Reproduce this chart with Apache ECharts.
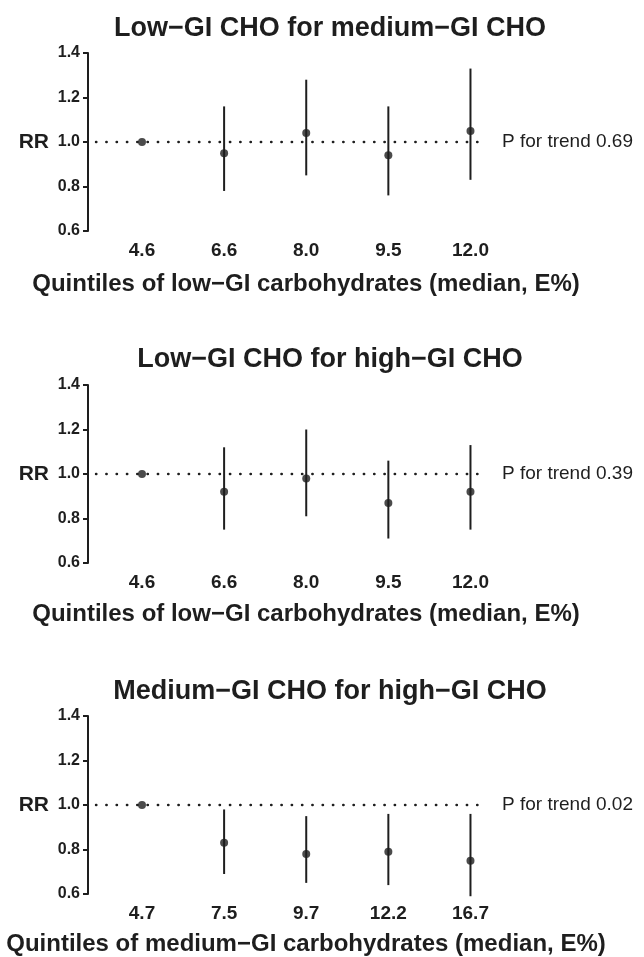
<!DOCTYPE html>
<html lang="en">
<head>
    <meta charset="utf-8">
    <title>RR by quintiles of GI carbohydrates</title>
    <script src="https://cdn.jsdelivr.net/npm/echarts@6/dist/echarts.min.js"></script>
    <style>
        html, body { margin: 0; padding: 0; background: #fff; }
    </style>
</head>
<body>
<div id="chart" style="width:644px; height:957px;"></div>

<script>
    // panel titles / axis titles / trend text
    var panelTitles = ['Low\u2212GI CHO for medium\u2212GI CHO', 'Low\u2212GI CHO for high\u2212GI CHO', 'Medium\u2212GI CHO for high\u2212GI CHO'];
    var xTitles = ['Quintiles of low\u2212GI carbohydrates (median, E%)', 'Quintiles of low\u2212GI carbohydrates (median, E%)', 'Quintiles of medium\u2212GI carbohydrates (median, E%)'];
    var trendText = ['P for trend 0.69', 'P for trend 0.39', 'P for trend 0.02'];

    // quintile medians (tick labels)
    var quint1 = ['4.6', '6.6', '8.0', '9.5', '12.0'];
    var quint2 = ['4.6', '6.6', '8.0', '9.5', '12.0'];
    var quint3 = ['4.7', '7.5', '9.7', '12.2', '16.7'];

    // relative risks and 95% CI
    var rr1 = [1.00, 0.95, 1.04, 0.94, 1.05];
    var lo1 = [null, 0.78, 0.85, 0.76, 0.83];
    var hi1 = [null, 1.16, 1.28, 1.16, 1.33];

    var rr2 = [1.00, 0.92, 0.98, 0.87, 0.92];
    var lo2 = [null, 0.75, 0.81, 0.71, 0.75];
    var hi2 = [null, 1.12, 1.20, 1.06, 1.13];

    var rr3 = [1.00, 0.83, 0.78, 0.79, 0.75];
    var lo3 = [null, 0.69, 0.65, 0.64, 0.59];
    var hi3 = [null, 0.98, 0.95, 0.96, 0.96];

    var FONT = '"Liberation Sans", Arial, Helvetica, sans-serif';
    var INK = '#1e1e1e';

    var quints = [quint1, quint2, quint3];
    var rrs = [rr1, rr2, rr3];
    var los = [lo1, lo2, lo3];
    var his = [hi1, hi2, hi3];

    // vertical placement of each panel
    var gridTops = [53, 385, 716];
    var gridH = 178;
    var titleTops = [15, 346, 678];
    var xTitleTops = [272, 602, 932];

    var chart = echarts.init(document.getElementById('chart'));

    var titles = [], grids = [], xAxes = [], yAxes = [], series = [];

    for (var p = 0; p < 3; p++) {
        titles.push({
            text: panelTitles[p],
            left: 330, top: titleTops[p], textAlign: 'center', padding: 0,
            textStyle: { fontFamily: FONT, fontSize: 27, fontWeight: 'bold', color: INK }
        });
        titles.push({
            text: xTitles[p],
            left: 306, top: xTitleTops[p], textAlign: 'center', padding: 0,
            textStyle: { fontFamily: FONT, fontSize: 24, fontWeight: 'bold', color: INK }
        });

        grids.push({ left: 96, width: 384, top: gridTops[p], height: gridH });

        (function (labels) {
            xAxes.push({
                type: 'value', gridIndex: p,
                min: 0.44, max: 5.116,
                splitLine: { show: false },
                axisLine: { show: false },
                axisTick: { show: false },
                axisLabel: {
                    customValues: [1, 2, 3, 4, 5],
                    formatter: function (v) { return labels[Math.round(v) - 1]; },
                    margin: 10,
                    fontFamily: FONT, fontSize: 19, fontWeight: 'bold', color: INK
                }
            });
        })(quints[p]);

        yAxes.push({
            type: 'value', gridIndex: p,
            min: 0.6, max: 1.4, interval: 0.2,
            offset: 8,
            name: 'RR', nameLocation: 'middle', nameRotate: 0, nameGap: 39,
            nameTextStyle: { fontFamily: FONT, fontSize: 21, fontWeight: 'bold', color: INK },
            splitLine: { show: false },
            axisLine: { show: true, lineStyle: { color: INK, width: 2 } },
            axisTick: { show: true, length: 5, lineStyle: { color: INK, width: 2 } },
            axisLabel: {
                margin: 8,
                formatter: function (v) { return v.toFixed(1); },
                fontFamily: FONT, fontSize: 16, fontWeight: 'bold', color: INK
            }
        });

        var ciData = [], ptData = [];
        for (var i = 0; i < 5; i++) {
            ptData.push([i + 1, rrs[p][i]]);
            if (los[p][i] != null) ciData.push([i + 1, los[p][i], his[p][i]]);
        }

        series.push({
            type: 'custom', xAxisIndex: p, yAxisIndex: p, silent: true, z: 2,
            data: ciData,
            encode: { x: 0, y: [1, 2] },
            renderItem: function (params, api) {
                var a = api.coord([api.value(0), api.value(1)]);
                var b = api.coord([api.value(0), api.value(2)]);
                return {
                    type: 'line',
                    shape: { x1: a[0], y1: a[1], x2: b[0], y2: b[1] },
                    style: { stroke: INK, lineWidth: 2 }
                };
            }
        });

        series.push({
            type: 'scatter', xAxisIndex: p, yAxisIndex: p, silent: true, z: 3,
            symbol: 'circle', symbolSize: 8,
            itemStyle: { color: INK },
            data: ptData,
            markLine: {
                silent: true, symbol: 'none',
                lineStyle: { color: INK, width: 2.4, type: [0.4, 9.9], cap: 'round' },
                label: {
                    show: true, position: 'end', distance: 22,
                    formatter: trendText[p],
                    fontFamily: FONT, fontSize: 19, color: INK
                },
                data: [{ yAxis: 1 }]
            }
        });
    }

    chart.setOption({
        backgroundColor: '#fff',
        animation: false,
        title: titles,
        grid: grids,
        xAxis: xAxes,
        yAxis: yAxes,
        series: series
    });
</script>
</body>
</html>
